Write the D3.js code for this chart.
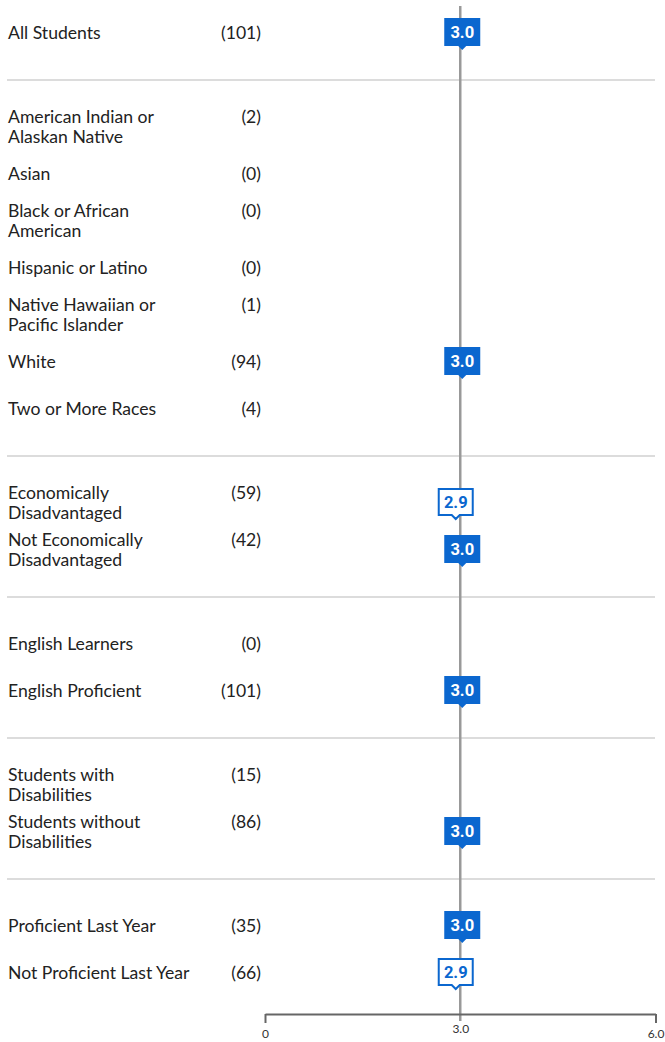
<!DOCTYPE html>
<html>
<head>
<meta charset="utf-8">
<script src="https://cdn.jsdelivr.net/npm/d3@7"></script>
<style>
  html, body { margin: 0; padding: 0; background: #fff; }
  svg { display: block; }
</style>
</head>
<body>
<svg id="chart" width="665" height="1042"></svg>
<script>
// ---- data ----
const categories = [
  "All Students",
  "American Indian or Alaskan Native",
  "Asian",
  "Black or African American",
  "Hispanic or Latino",
  "Native Hawaiian or Pacific Islander",
  "White",
  "Two or More Races",
  "Economically Disadvantaged",
  "Not Economically Disadvantaged",
  "English Learners",
  "English Proficient",
  "Students with Disabilities",
  "Students without Disabilities",
  "Proficient Last Year",
  "Not Proficient Last Year"
];
const labelLines = [
  ["All Students"],
  ["American Indian or", "Alaskan Native"],
  ["Asian"],
  ["Black or African", "American"],
  ["Hispanic or Latino"],
  ["Native Hawaiian or", "Pacific Islander"],
  ["White"],
  ["Two or More Races"],
  ["Economically", "Disadvantaged"],
  ["Not Economically", "Disadvantaged"],
  ["English Learners"],
  ["English Proficient"],
  ["Students with", "Disabilities"],
  ["Students without", "Disabilities"],
  ["Proficient Last Year"],
  ["Not Proficient Last Year"]
];
const groupIds = [0, 1, 1, 1, 1, 1, 1, 1, 2, 2, 3, 3, 4, 4, 5, 5];
const counts = [101, 2, 0, 0, 0, 1, 94, 4, 59, 42, 0, 101, 15, 86, 35, 66];
const scores = [3.0, null, null, null, null, null, 3.0, null, 2.9, 3.0, null, 3.0, null, 3.0, 3.0, 2.9];
const referenceValue = 3.0;
const axisTicks = [0, 3.0, 6.0];
const axisTickLabels = ["0", "3.0", "6.0"];

// ---- layout ----
const svg = d3.select("#chart");
const blue = "#0b67cf";

// slot index: one empty slot between groups
const slots = [];
let s = 0;
categories.forEach((c, i) => {
  if (i > 0 && groupIds[i] !== groupIds[i - 1]) s += 1;
  slots.push(s);
  s += 1;
});
const nSlots = slots[slots.length - 1];
const y = d3.scaleLinear().domain([0, nSlots]).range([32, 972]);
const x = d3.scaleLinear().domain([0, 6]).range([265, 655.5]);

// separators
const sepSlots = [];
for (let i = 1; i < categories.length; i++) {
  if (groupIds[i] !== groupIds[i - 1]) sepSlots.push(slots[i] - 1);
}
svg.append("g").selectAll("line").data(sepSlots).join("line")
  .attr("x1", 7).attr("x2", 655)
  .attr("y1", d => y(d) + 1).attr("y2", d => y(d) + 1)
  .attr("stroke", "#dcdcdc").attr("stroke-width", 2);

// labels
const lineH = 20.5;
const rows = svg.append("g").selectAll("g").data(categories).join("g")
  .attr("transform", (d, i) => `translate(0,${y(slots[i])})`);

rows.each(function(d, i) {
  const g = d3.select(this);
  const lines = labelLines[i];
  const top = -(lines.length - 1) * lineH / 2;
  lines.forEach((ln, k) => {
    g.append("text")
      .attr("x", 8).attr("y", top + k * lineH)
      .attr("dy", "0.4em")
      .attr("font-family", "Lato, sans-serif")
      .attr("font-size", 17.6)
      .attr("fill", "#222")
      .text(ln);
  });
  g.append("text")
    .attr("x", 261).attr("y", top)
    .attr("dy", "0.4em")
    .attr("text-anchor", "end")
    .attr("font-family", "Lato, sans-serif")
    .attr("font-size", 17.6)
    .attr("fill", "#222")
    .text(`(${counts[i]})`);
});

// reference line
svg.append("line")
  .attr("x1", x(referenceValue)).attr("x2", x(referenceValue))
  .attr("y1", 6).attr("y2", 1021)
  .attr("stroke", "#999").attr("stroke-width", 2.5);

// axis
const axisY = 1014;
const axis = d3.axisBottom(x).tickValues(axisTicks)
  .tickFormat((d, i) => axisTickLabels[i])
  .tickSize(9).tickSizeOuter(0).tickPadding(6);
const ag = svg.append("g").attr("transform", `translate(0,${axisY})`).call(axis);
ag.select(".domain").attr("stroke", "#666").attr("stroke-width", 2);
ag.selectAll(".tick line").attr("stroke", "#666").attr("stroke-width", 2);
ag.selectAll(".tick text")
  .attr("font-family", "Lato, sans-serif").attr("font-size", 12).attr("fill", "#333")
  .attr("dy", (d, i) => (d === referenceValue ? "0.3em" : "0.71em"));
ag.selectAll(".tick").filter(d => d === referenceValue).select("line").remove();

// markers
const markerData = categories.map((c, i) => ({ i, v: scores[i] })).filter(d => d.v !== null);
const bw = 34, bh = 26;
const mk = svg.append("g").selectAll("g").data(markerData).join("g")
  .attr("transform", d => `translate(${x(d.v) + 2},${y(slots[d.i])})`);

mk.each(function(d) {
  const g = d3.select(this);
  const filled = d.v >= scores[0];
  if (filled) {
    g.append("path")
      .attr("d", `M${-bw/2 - 1},${-bh/2 - 1}H${bw/2 + 1}V${bh/2 + 1}H4L0,${bh/2 + 5}L-4,${bh/2 + 1}H${-bw/2 - 1}Z`)
      .attr("fill", blue);
    g.append("text").attr("text-anchor", "middle").attr("dy", "0.36em")
      .attr("font-family", "Roboto, Arial, sans-serif").attr("font-weight", "bold")
      .attr("font-size", 16.5).attr("fill", "#fff").text(d.v.toFixed(1));
  } else {
    g.append("path")
      .attr("d", `M${-bw/2},${-bh/2}H${bw/2}V${bh/2}H4L0,${bh/2 + 4}L-4,${bh/2}H${-bw/2}Z`)
      .attr("fill", "#fff").attr("stroke", blue).attr("stroke-width", 2);
    g.append("text").attr("text-anchor", "middle").attr("dy", "0.36em")
      .attr("font-family", "Roboto, Arial, sans-serif").attr("font-weight", "bold")
      .attr("font-size", 16.5).attr("fill", blue).text(d.v.toFixed(1));
  }
});
</script>
</body>
</html>
